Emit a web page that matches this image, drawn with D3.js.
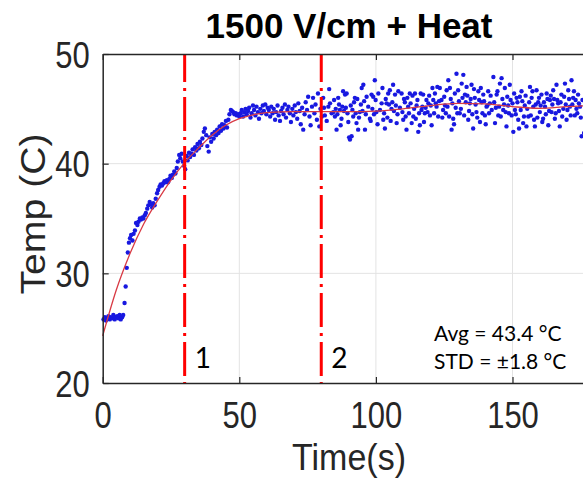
<!DOCTYPE html>
<html>
<head>
<meta charset="utf-8">
<script src="https://cdn.jsdelivr.net/npm/d3@7/dist/d3.min.js"></script>
<style>
  body { margin: 0; background: #fff; }
  svg { display: block; font-family: Arial, "Liberation Sans", sans-serif; }
</style>
</head>
<body>
<svg id="chart" width="583" height="480"></svg>
<script>
// temperature samples: [time (s), temp (C)]
var samples = [
  [0.3,25.8],[0.8,26.0],[1.2,25.7],[1.7,25.9],[2.1,26.1],[2.6,25.8],[3.0,26.0],[3.5,25.9],[3.9,26.2],[4.4,25.8],
  [4.8,26.0],[5.3,26.1],[5.7,25.9],[6.2,26.2],[6.6,25.8],[7.1,26.0],[7.5,26.2],[8.0,27.3],[8.4,28.8],[8.8,30.5],
  [9.2,31.9],[9.6,32.8],[10.0,33.2],[10.4,33.5],[10.9,33.0],[11.3,33.6],[11.8,33.9],[12.2,34.6],[12.7,34.4],[13.1,34.7],
  [13.6,35.0],[14.0,34.9],[14.5,35.1],[14.9,35.0],[15.4,35.3],[15.8,35.5],[16.3,35.9],[16.7,36.2],[17.2,36.5],[17.6,36.3],
  [18.1,36.0],[18.5,36.4],[19.0,36.2],[19.4,36.8],[19.9,37.3],[20.3,37.6],[20.8,37.9],[21.2,38.1],[21.7,38.0],[22.1,38.2],
  [22.6,38.4],[23.0,38.3],[23.5,38.5],[23.9,38.3],[24.4,38.6],[24.8,38.9],[25.3,38.7],[25.7,39.0],[26.2,39.3],[26.6,39.1],
  [27.1,39.6],[27.5,40.2],[28.0,40.8],[28.4,40.5],[28.9,40.9],[29.3,40.2],[29.8,39.8],[30.2,39.5],[30.7,40.7],[31.1,40.3],
  [31.6,41.0],[32.0,40.6],[32.5,40.9],[32.9,41.3],[33.4,40.8],[33.8,41.5],[34.3,41.2],[34.7,41.8],[35.2,41.4],[35.6,42.0],
  [36.1,41.7],[36.5,42.3],[37.0,42.9],[37.4,43.2],[37.9,42.6],[38.3,41.6],[38.8,41.1],[39.2,42.4],[39.7,42.0],[40.1,42.7],
  [40.6,42.3],[41.0,42.9],[41.5,42.6],[41.9,43.1],[42.4,42.8],[42.8,43.4],[43.3,43.0],[43.7,43.6],[44.2,43.2],[44.6,43.5],
  [45.1,43.9],[45.5,43.3],[46.0,44.0],[46.4,44.5],[46.9,44.9],[47.3,44.8],[47.8,44.7],[48.2,44.5],[48.7,44.6],[49.1,44.4],
  [49.6,44.5],[50.0,44.3],[50.5,44.6],[50.9,44.9],[51.4,44.3],[51.8,44.7],[52.3,45.0],[52.7,44.5],[53.2,44.8],[53.6,45.1],
  [54.1,44.2],[54.5,44.6],[55.0,45.3],[55.4,44.9],[55.9,44.4],[56.3,45.2],[56.8,44.7],[57.2,44.1],[57.7,45.0],[58.1,44.6],
  [58.6,45.3],[59.0,44.8],[59.5,45.4],[59.9,44.5],[60.4,45.1],[60.8,44.9],[61.3,44.3],[61.7,45.2],[62.2,44.6],[62.6,45.0],
  [63.1,44.0],[63.5,44.7],[64.0,45.3],[64.4,44.4],[64.9,43.9],[65.3,44.8],[65.8,45.1],[66.2,44.5],[66.7,45.4],[67.1,44.2],
  [67.6,44.9],[68.0,45.2],[68.5,44.6],[68.9,43.8],[69.4,45.0],[69.8,44.4],[70.3,45.3],[70.7,44.7],[71.2,44.1],[71.6,45.5],
  [72.1,44.8],[72.5,43.6],[73.0,45.1],[73.4,43.1],[73.9,44.5],[74.3,45.6],[74.8,44.9],[75.2,46.1],[75.7,44.3],[76.1,43.5],
  [76.6,45.2],[77.0,46.0],[77.5,44.6],[77.9,45.4],[78.4,44.0],[78.8,46.4],[79.3,43.4],[79.7,45.0],[80.2,44.3],
  [80.7,46.0],[81.0,45.1],[81.3,44.4],[82.0,43.9],[82.6,45.2],[82.9,46.8],[83.2,45.5],[83.8,44.6],[84.4,44.7],[84.7,45.8],
  [85.0,44.3],[85.3,45.0],[85.6,43.1],[85.9,44.5],[86.2,46.0],[86.5,45.4],[86.8,44.9],[87.1,43.5],[87.4,44.1],[87.7,45.2],
  [88.0,46.6],[88.3,44.8],[88.7,46.3],[89.0,45.1],[89.3,46.4],[89.6,44.6],[89.9,43.8],[90.2,42.4],[90.5,42.2],[90.8,45.3],
  [91.1,42.5],[91.4,44.9],[91.7,44.3],[92.0,45.6],[92.3,46.0],[92.6,44.6],[92.9,43.7],[93.2,45.9],[93.5,43.1],[93.8,44.2],
  [94.1,44.7],[94.5,45.4],[94.8,46.9],[95.1,44.8],[95.4,47.2],[95.7,45.7],[96.0,43.1],[96.3,44.5],[96.6,46.1],[97.2,45.2],
  [97.8,44.1],[98.1,43.9],[98.4,46.3],[98.7,45.0],[99.0,46.1],[99.3,44.5],[99.6,47.6],[99.9,45.8],[100.2,44.7],[100.6,43.6],
  [100.9,46.4],[101.5,44.9],[102.1,45.5],[102.4,46.9],[102.7,44.0],[103.0,44.6],[103.3,43.2],[103.6,45.9],[103.9,45.5],[104.2,44.2],
  [104.5,46.4],[104.8,45.4],[105.1,46.7],[105.4,43.9],[105.7,45.0],[106.0,45.6],[106.3,47.2],[106.6,44.8],[107.0,46.3],[107.3,45.3],
  [107.6,43.7],[107.9,44.5],[108.2,46.6],[108.8,45.1],[109.4,46.4],[109.7,44.7],[110.0,44.0],[110.3,45.9],[110.6,45.6],[110.9,44.3],
  [111.2,43.1],[111.5,46.0],[111.8,45.2],[112.1,44.6],[112.4,46.4],[112.7,45.5],[113.1,43.7],[113.4,46.2],[113.7,44.3],[114.0,45.0],
  [114.3,46.4],[114.6,44.1],[114.9,45.3],[115.2,45.8],[115.5,42.9],[115.8,44.6],[116.1,43.5],[116.4,46.4],[116.7,44.9],[117.0,45.2],
  [117.3,46.3],[117.6,43.8],[117.9,44.6],[118.2,45.1],[118.5,45.8],[118.9,44.7],[119.2,45.5],[119.5,46.2],[119.8,44.4],[120.1,45.3],
  [120.4,43.5],[120.7,46.9],[121.0,45.8],[121.3,44.6],[121.6,46.4],[121.9,45.5],[122.2,45.2],[122.5,47.0],[122.8,44.3],[123.1,45.7],
  [123.4,46.9],[124.0,45.8],[124.3,44.2],[124.6,44.9],[125.0,46.1],[125.3,45.3],[125.6,44.6],[125.9,46.7],[126.2,45.2],[126.5,47.6],
  [126.8,44.3],[127.1,46.9],[127.4,45.9],[127.7,43.1],[128.0,45.5],[128.3,44.1],[128.6,43.6],[128.9,46.4],[129.2,45.1],[129.5,48.2],
  [129.8,44.6],[130.1,46.7],[130.4,45.7],[130.7,44.6],[131.1,45.0],[131.4,47.3],[131.7,46.0],[132.0,48.1],[132.3,44.4],[132.6,46.3],
  [132.9,45.6],[133.2,47.0],[133.5,46.2],[133.8,44.0],[134.1,44.8],[134.4,45.5],[134.7,45.9],[135.0,47.2],[135.3,44.5],[135.6,43.2],
  [135.9,46.8],[136.2,46.0],[136.5,45.4],[136.8,44.7],[137.1,44.2],[137.5,46.6],[137.8,45.8],[138.1,43.8],[138.4,46.9],[138.7,45.6],
  [139.0,44.6],[139.3,46.3],[139.6,45.7],[139.9,44.4],[140.2,43.6],[140.5,45.2],[140.8,45.3],[141.1,46.6],[141.4,44.6],[141.7,45.5],
  [142.0,46.2],[142.4,44.9],[143.0,47.9],[143.3,45.6],[143.6,43.7],[143.9,45.1],[144.2,46.3],[144.5,46.6],[144.8,44.4],[145.1,45.2],
  [145.4,47.3],[145.7,44.3],[146.0,47.8],[146.3,45.9],[146.6,44.9],[146.9,45.4],[147.2,46.9],[147.5,44.7],[147.8,43.4],[148.1,46.1],
  [148.4,45.3],[148.7,44.6],[149.0,47.2],[149.3,45.8],[149.7,44.4],[150.0,45.5],[150.3,42.9],[150.6,46.4],[150.9,44.9],[151.2,44.5],
  [151.5,46.0],[151.8,45.6],[152.1,44.0],[152.4,43.2],[152.7,46.1],[153.0,44.9],[153.3,46.6],[153.6,45.7],[153.9,43.7],[154.2,44.3],
  [154.5,45.3],[154.8,46.2],[155.1,43.4],[155.4,45.0],[155.8,44.3],[156.1,45.6],[156.4,47.0],[156.7,44.4],[157.0,46.0],[157.3,46.6],
  [157.6,45.2],[157.9,44.0],[158.2,43.4],[158.5,45.4],[158.8,46.7],[159.1,44.2],[159.4,45.6],[159.7,46.0],[160.0,44.7],[160.3,45.3],
  [160.6,46.3],[160.9,43.8],[161.2,44.1],[161.5,45.6],[161.9,45.2],[162.2,44.5],[162.5,46.4],[162.8,45.9],[163.1,43.5],[163.4,44.8],
  [163.7,45.8],[164.0,46.2],[164.3,44.7],[164.6,45.4],[164.9,46.7],[165.2,45.9],[165.5,44.1],[165.8,44.6],[166.1,47.2],[166.4,45.8],
  [166.7,45.5],[167.0,44.8],[167.3,43.4],[167.6,45.6],[167.9,46.3],[168.2,44.3],[168.6,45.0],[168.9,46.1],[169.2,47.3],[169.5,45.4],
  [169.8,44.0],[170.1,44.9],[170.4,46.7],[170.7,45.9],[171.0,45.2],[171.3,44.4],[171.6,47.6],[171.9,45.4],[172.2,46.0],[172.5,46.6],
  [172.8,44.4],[173.1,45.8],[173.4,45.0],[173.7,44.6],[174.0,46.3],[174.3,45.5],[174.7,45.2],[175.0,44.2],[175.3,42.5],[175.6,45.8],
  [176.2,42.8],[176.8,45.3]
];

// smoothed fit through the samples: [time (s), temp (C)]
var fitCurve = [
  [0,24.3],[5,28.5],[10,31.8],[15,34.5],[20,36.6],[25,38.5],[30,40.1],[35,41.4],[40,42.6],[45,43.5],
  [50,44.1],[55,44.45],[60,44.65],[70,44.75],[80,44.75],[90,44.75],[100,44.8],[110,45.0],[120,45.3],[130,45.5],
  [140,45.45],[150,45.2],[160,45.05],[170,45.2],[180,45.3],[190,45.3],[200,45.2]
];

var markerTimes = [30, 80];
var markerLabels = ["1", "2"];
var xTicks = [0, 50, 100, 150];
var yTicks = [20, 30, 40, 50];
var statLines = ["Avg = 43.4 °C", "STD = \u00B11.8 °C"];

var svg = d3.select("#chart");
var plotLeft = 102.7, plotTop = 54, plotBottom = 383;
var plotRight = plotLeft + 200 * 2.732;
var stretch = 1.17;   // the source figure is a little taller than wide

var x = d3.scaleLinear().domain([0, 200]).range([plotLeft, plotRight]);
var y = d3.scaleLinear().domain([20, 50]).range([plotBottom, plotTop]);

svg.append("rect").attr("width", 583).attr("height", 480).attr("fill", "#fff");

// grid
svg.append("g").selectAll("line")
    .data(xTicks.filter(d => d > 0))
    .enter().append("line")
    .attr("x1", d => x(d)).attr("x2", d => x(d))
    .attr("y1", plotTop).attr("y2", plotBottom)
    .attr("stroke", "#e3e3e3").attr("stroke-width", 1);
svg.append("g").selectAll("line")
    .data(yTicks.filter(d => d > 20 && d < 50))
    .enter().append("line")
    .attr("x1", plotLeft).attr("x2", plotRight)
    .attr("y1", d => y(d)).attr("y2", d => y(d))
    .attr("stroke", "#e3e3e3").attr("stroke-width", 1);

// samples
svg.append("g").selectAll("circle")
    .data(samples)
    .enter().append("circle")
    .attr("cx", d => x(d[0]))
    .attr("cy", d => y(d[1]))
    .attr("r", 2.2)
    .attr("fill", "#1818e0");

// fit
svg.append("path")
    .datum(fitCurve)
    .attr("fill", "none")
    .attr("stroke", "#d83a44")
    .attr("stroke-width", 1.3)
    .attr("d", d3.line().x(d => x(d[0])).y(d => y(d[1])).curve(d3.curveMonotoneX));

// phase markers
svg.append("g").selectAll("line")
    .data(markerTimes)
    .enter().append("line")
    .attr("x1", d => x(d)).attr("x2", d => x(d))
    .attr("y1", plotTop).attr("y2", plotBottom)
    .attr("stroke", "#ff0000").attr("stroke-width", 3)
    .attr("stroke-dasharray", "34 6 3 6")
    .attr("stroke-dashoffset", 6);

svg.append("g").selectAll("text")
    .data(markerTimes)
    .enter().append("text")
    .attr("x", d => x(d) + 10)
    .attr("y", 368)
    .attr("font-family", "Lato, 'Open Sans', sans-serif")
    .attr("font-size", 28)
    .attr("fill", "#000")
    .text((d, i) => markerLabels[i]);

// axes
var axisColor = "#262626";
var xAxis = svg.append("g")
    .attr("transform", "translate(0," + plotBottom + ")")
    .call(d3.axisBottom(x).tickValues(xTicks).tickSizeInner(-6).tickSizeOuter(0));
var xTop = svg.append("g")
    .attr("transform", "translate(0," + plotTop + ")")
    .call(d3.axisTop(x).tickValues(xTicks).tickSizeInner(-6).tickSizeOuter(0).tickFormat(""));
var yAxis = svg.append("g")
    .attr("transform", "translate(" + plotLeft + ",0)")
    .call(d3.axisLeft(y).tickValues(yTicks).tickSizeInner(-6).tickSizeOuter(0));

[xAxis, xTop, yAxis].forEach(function(g) {
    g.select(".domain").attr("stroke", axisColor).attr("stroke-width", 1.5);
    g.selectAll(".tick line").attr("stroke", axisColor).attr("stroke-width", 1.2);
    g.selectAll(".tick text")
        .attr("fill", axisColor)
        .attr("font-family", "Arial, 'Liberation Sans', sans-serif")
        .attr("font-size", 31);
});
xAxis.selectAll(".tick text")
    .attr("y", 0).attr("dy", 0)
    .attr("transform", "translate(0,45) scale(1," + stretch + ")");
yAxis.selectAll(".tick text")
    .attr("x", 0).attr("dy", "0.36em")
    .attr("transform", "translate(-13,0) scale(1," + stretch + ")");

// stats text
svg.append("g").selectAll("text")
    .data(statLines)
    .enter().append("text")
    .attr("x", 434)
    .attr("y", (d, i) => 341 + i * 28)
    .attr("font-family", "Lato, 'Open Sans', sans-serif")
    .attr("font-size", 21)
    .attr("fill", "#000")
    .text(d => d);

// titles
svg.append("text")
    .attr("x", 349).attr("y", 38)
    .attr("text-anchor", "middle")
    .attr("font-weight", "bold")
    .attr("font-size", 35)
    .attr("fill", "#000")
    .text("1500 V/cm + Heat");

svg.append("text")
    .attr("transform", "translate(349,470) scale(1,1.08)")
    .attr("text-anchor", "middle")
    .attr("font-size", 34)
    .attr("fill", axisColor)
    .text("Time(s)");

svg.append("text")
    .attr("transform", "translate(45,214) rotate(-90) scale(1.12,1)")
    .attr("text-anchor", "middle")
    .attr("font-size", 35)
    .attr("fill", axisColor)
    .text("Temp (C)");
</script>
</body>
</html>
